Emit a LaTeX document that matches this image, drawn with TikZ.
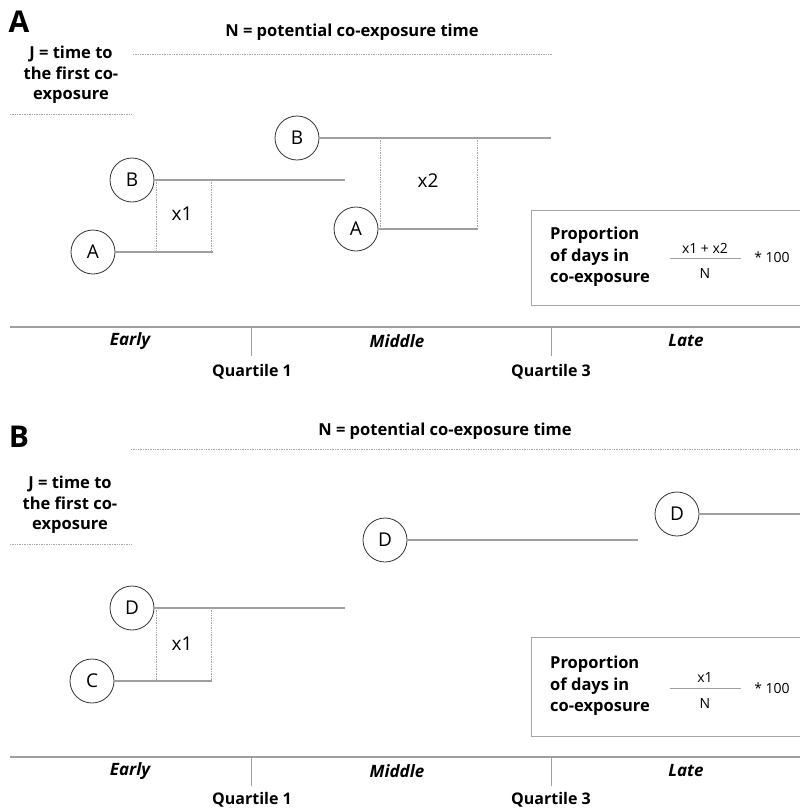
\documentclass[tikz,border=0pt]{standalone}
\usepackage{fontspec}
\setmainfont{Open Sans}
\begin{document}
\begin{tikzpicture}[x=1pt,y=-1pt,
  circ/.style={circle, draw=black!80, line width=0.8pt, minimum size=44pt, inner sep=0pt, font=\fontsize{19}{22}\selectfont, fill=white},
  hl/.style={draw=gray!75, line width=1.1pt},
  dl/.style={draw=gray!70, line width=0.7pt, densely dotted},
  bl/.style={font=\fontsize{16.5}{20.5}\selectfont\bfseries, align=center, inner sep=0pt},
  pl/.style={font=\fontsize{16.5}{21.5}\selectfont\bfseries, align=left, anchor=west, inner sep=0pt},
  rl/.style={font=\fontsize{19}{22}\selectfont, inner sep=0pt},
  sl/.style={font=\fontsize{14}{16}\selectfont, inner sep=0pt},
  al/.style={font=\fontsize{17}{20}\selectfont\bfseries\itshape, inner sep=0pt},
  ql/.style={font=\fontsize{16}{19}\selectfont\bfseries, inner sep=0pt},
  pan/.style={font=\fontsize{30}{34}\selectfont\bfseries, inner sep=0pt}]
\useasboundingbox (0,0) rectangle (800,809);

% ================= Panel A =================
\node[pan] (pA) at (19,22) {A};
\node[bl] (nA) at (352,32) {N = potential co-exposure time};
\draw[dl] (133,54) -- (552,54);
\node[bl] (jA) at (71,75) {J = time to\\the first co-\\exposure};
\draw[dl] (10,114) -- (131,114);

\node[circ] (B1) at (132,180) {B};
\node[circ] (A1) at (93,252) {A};
\coordinate (B1e) at (345,180);
\coordinate (A1e) at (213,252);
\draw[hl] (B1.east) -- (B1e);
\draw[hl] (A1.east) -- (A1e);
\coordinate (d1t) at (156,180); \coordinate (d1b) at (156,252);
\coordinate (d2t) at (211,180); \coordinate (d2b) at (211,252);
\draw[dl] (d1t) -- (d1b);
\draw[dl] (d2t) -- (d2b);
\node[rl] (x1A) at (182,214) {x1};

\node[circ] (B2) at (297,138) {B};
\node[circ] (A2) at (356,229) {A};
\coordinate (B2e) at (551,138);
\coordinate (A2e) at (478,229);
\draw[hl] (B2.east) -- (B2e);
\draw[hl] (A2.east) -- (A2e);
\coordinate (d3t) at (380,138); \coordinate (d3b) at (380,229);
\coordinate (d4t) at (477,138); \coordinate (d4b) at (477,229);
\draw[dl] (d3t) -- (d3b);
\draw[dl] (d4t) -- (d4b);
\node[rl] (x2A) at (428,181) {x2};

\draw[draw=gray!70, line width=1pt] (800,210) -- (531,210) -- (531,305) -- (800,305);
\node[pl] (prA) at (550,257) {Proportion\\of days in\\co-exposure};
\node[sl] (fnA) at (705,248) {x1 + x2};
\draw[draw=gray!75, line width=0.9pt] (670,258) -- (741,258);
\node[sl] (fdA) at (705,273) {N};
\node[sl] (hA) at (772,257) {* 100};

\draw[draw=gray!75, line width=1.2pt] (10,327) -- (800,327);
\draw[draw=gray!75, line width=0.8pt] (251,327) -- (251,356);
\draw[draw=gray!75, line width=0.8pt] (551,327) -- (551,356);
\node[al] (eA) at (130,341) {Early};
\node[al] (mA) at (397,341) {Middle};
\node[al] (lA) at (686,341) {Late};
\node[ql] (q1A) at (252,372) {Quartile 1};
\node[ql] (q3A) at (551,372) {Quartile 3};

% ================= Panel B =================
\node[pan] (pB) at (19,437) {B};
\node[bl] (nB) at (445,431) {N = potential co-exposure time};
\draw[dl] (131,449) -- (800,449);
\node[bl] (jB) at (70,505) {J = time to\\the first co-\\exposure};
\draw[dl] (10,544) -- (131,544);

\node[circ] (Dm) at (385,540) {D};
\coordinate (Dme) at (638,540);
\draw[hl] (Dm.east) -- (Dme);
\node[circ] (Dr) at (677,514) {D};
\coordinate (Dre) at (800,514);
\draw[hl] (Dr.east) -- (Dre);

\node[circ] (Dl) at (132,608) {D};
\node[circ] (C1) at (92,681) {C};
\coordinate (Dle) at (345,608);
\coordinate (C1e) at (212,681);
\draw[hl] (Dl.east) -- (Dle);
\draw[hl] (C1.east) -- (C1e);
\coordinate (d5t) at (156,608); \coordinate (d5b) at (156,681);
\coordinate (d6t) at (211,608); \coordinate (d6b) at (211,681);
\draw[dl] (d5t) -- (d5b);
\draw[dl] (d6t) -- (d6b);
\node[rl] (x1B) at (182,644) {x1};

\draw[draw=gray!70, line width=1pt] (800,637) -- (531,637) -- (531,736) -- (800,736);
\node[pl] (prB) at (550,686) {Proportion\\of days in\\co-exposure};
\node[sl] (fnB) at (705,677) {x1};
\draw[draw=gray!75, line width=0.9pt] (670,688) -- (741,688);
\node[sl] (fdB) at (705,703) {N};
\node[sl] (hB) at (772,688) {* 100};

\draw[draw=gray!75, line width=1.2pt] (10,757) -- (800,757);
\draw[draw=gray!75, line width=0.8pt] (251,757) -- (251,786);
\draw[draw=gray!75, line width=0.8pt] (551,757) -- (551,786);
\node[al] (eB) at (130,771) {Early};
\node[al] (mB) at (397,771) {Middle};
\node[al] (lB) at (686,771) {Late};
\node[ql] (q1B) at (252,800) {Quartile 1};
\node[ql] (q3B) at (551,800) {Quartile 3};
\end{tikzpicture}
\end{document}
